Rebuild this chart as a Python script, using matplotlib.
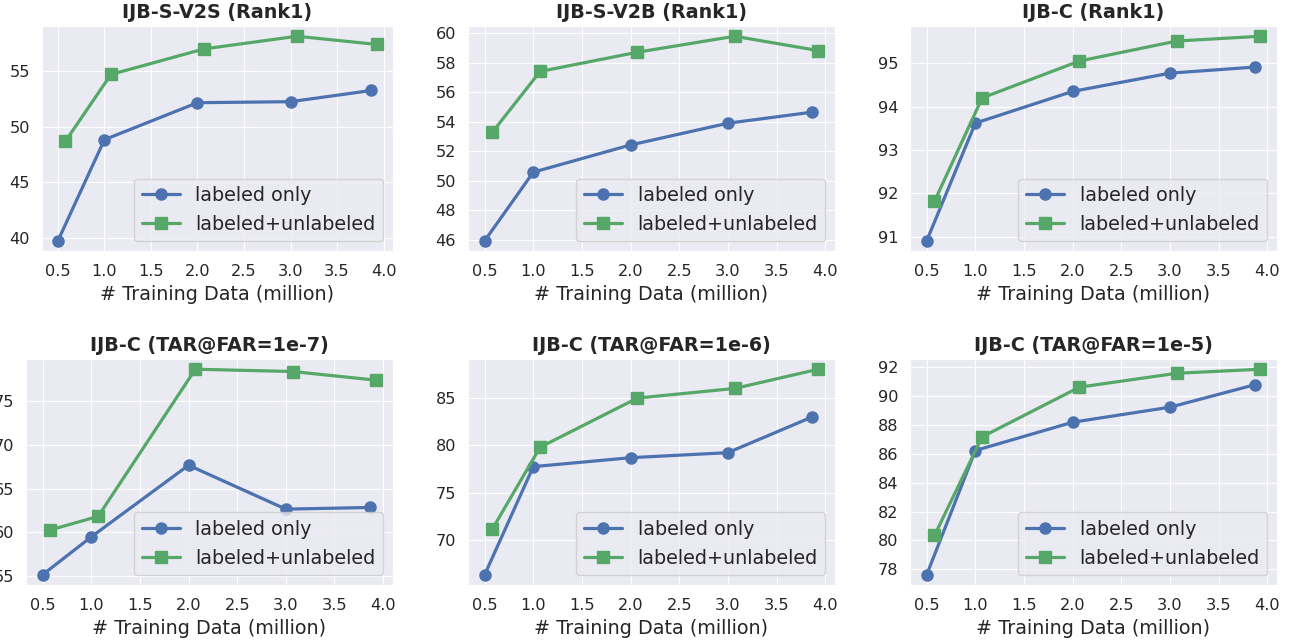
import numpy as np
import matplotlib
matplotlib.use('Agg')
import matplotlib.pyplot as plt
import seaborn as sns

sns.set_style('darkgrid')
plt.rcParams['font.family'] = ['DejaVu Sans']

# training data size (million) for each setting
x_labeled = [0.5, 1.0, 2.0, 3.0, 3.87]
x_both = [0.58, 1.07, 2.07, 3.07, 3.93]

titles = ['IJB-S-V2S (Rank1)', 'IJB-S-V2B (Rank1)', 'IJB-C (Rank1)',
          'IJB-C (TAR@FAR=1e-7)', 'IJB-C (TAR@FAR=1e-6)', 'IJB-C (TAR@FAR=1e-5)']

v2s_labeled = [39.73, 48.83, 52.16, 52.25, 53.26]
v2s_both = [48.68, 54.7, 57.0, 58.14, 57.4]
v2b_labeled = [45.95, 50.59, 52.43, 53.9, 54.65]
v2b_both = [53.3, 57.4, 58.7, 59.78, 58.81]
rank1_labeled = [90.91, 93.62, 94.35, 94.77, 94.91]
rank1_both = [91.82, 94.2, 95.05, 95.51, 95.62]
far7_labeled = [55.19, 59.5, 67.66, 62.66, 62.85]
far7_both = [60.3, 61.83, 78.6, 78.34, 77.35]
far6_labeled = [66.4, 77.76, 78.7, 79.23, 83.0]
far6_both = [71.22, 79.8, 84.97, 85.98, 88.0]
far5_labeled = [77.63, 86.23, 88.19, 89.23, 90.78]
far5_both = [80.35, 87.18, 90.62, 91.58, 91.86]

labeled = [v2s_labeled, v2b_labeled, rank1_labeled, far7_labeled, far6_labeled, far5_labeled]
both = [v2s_both, v2b_both, rank1_both, far7_both, far6_both, far5_both]

yticks = [[40, 45, 50, 55],
          np.arange(46, 61, 2),
          [91, 92, 93, 94, 95],
          [55, 60, 65, 70, 75],
          [70, 75, 80, 85],
          np.arange(78, 93, 2)]
xticks = np.arange(0.5, 4.01, 0.5)

blue = '#4C72B0'
green = '#55A868'

fig = plt.figure(figsize=(12.91, 6.41), dpi=100)

# axes boxes (left, bottom, width, height) - the bottom-left one is wider, labels clipped
boxes = [(0.0325, 0.6084, 0.2719, 0.3510),
         (0.3625, 0.6084, 0.2843, 0.3510),
         (0.7049, 0.6084, 0.2843, 0.3510),
         (0.0201, 0.0874, 0.2843, 0.3526),
         (0.3625, 0.0874, 0.2843, 0.3526),
         (0.7049, 0.0874, 0.2843, 0.3526)]

for i in range(6):
    ax = fig.add_axes(boxes[i])
    ax.plot(x_labeled, labeled[i], color=blue, marker='o', lw=2.3, ms=8, label='labeled only')
    ax.plot(x_both, both[i], color=green, marker='s', lw=2.3, ms=8, label='labeled+unlabeled')
    ax.set_title(titles[i], fontsize=13.8, fontweight='bold', pad=6)
    ax.set_xlabel('# Training Data (million)', fontsize=13.8, labelpad=4)
    ax.set_xticks(xticks)
    ax.set_yticks(yticks[i])
    ax.tick_params(axis='x', labelsize=11.6, pad=6)
    ax.tick_params(axis='y', labelsize=11.6, pad=5)
    ax.legend(loc='lower right', fontsize=13.8, frameon=True)

fig.savefig('out.png', dpi=100)
